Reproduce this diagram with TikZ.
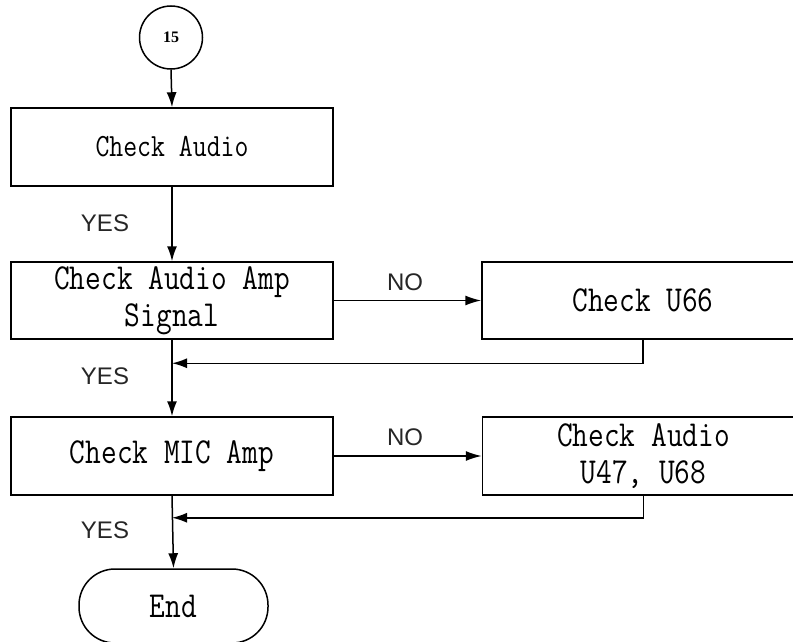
\documentclass[tikz,border=0pt]{standalone}
\usepackage{fontspec}
\usepackage{graphicx}
\newfontfamily\labfont{Liberation Sans}
\newfontfamily\numfont{Liberation Serif}
\usetikzlibrary{arrows.meta}
\newcommand\tl[1]{\scalebox{1}[1.2]{#1}}
\begin{document}
\begin{tikzpicture}[x=1pt,y=-1pt,
  line width=1.5pt,
  boxstyle/.style={draw, rectangle, inner sep=0pt, align=center,
    font=\ttfamily\fontsize{30.5}{37}\selectfont},
  lab/.style={font=\labfont\fontsize{24}{28}\selectfont, text=black!85, inner sep=0pt},
  arr/.style={-{Latex[length=15pt,width=10pt]}},
  harr/.style={-{Latex[length=16pt,width=10pt]}}]
\useasboundingbox (0,0) rectangle (793,642);
\clip (0,0) rectangle (793,642);

\node[draw, circle, minimum size=63pt, inner sep=0pt,
  font=\numfont\bfseries\fontsize{16}{18}\selectfont] (c15) at (171,37.5) {15};

\node[boxstyle, minimum width=322pt, minimum height=78pt,
  font=\ttfamily\fontsize{27}{32}\selectfont] (b1) at (172,147) {\tl{Check Audio}};
\node[boxstyle, minimum width=322pt, minimum height=77pt] (b2) at (172,300.5)
  {\tl{Check Audio Amp}\\\tl{Signal}};
\node[boxstyle, minimum width=322pt, minimum height=78pt] (b3) at (172,456)
  {\tl{Check MIC Amp}};
\node[boxstyle, minimum width=322pt, minimum height=77pt] (r1) at (643,300.5)
  {\tl{Check U66}};
\node[boxstyle, minimum width=322pt, minimum height=78pt] (r2) at (643.5,456)
  {\tl{Check Audio}\\\tl{U47, U68}};
\node[draw, rectangle, rounded corners=36pt, minimum width=189pt, minimum height=74pt,
  inner sep=0pt, font=\ttfamily\fontsize{30.5}{37}\selectfont] (end) at (173.5,606) {\tl{End}};

\draw[arr] (c15.south) -- (b1.north);
\draw[arr] (b1.south) -- (b2.north);
\draw[arr] (b2.south) -- (b3.north);
\draw[arr] (b3.south) -- (end.north);

\draw[harr] (b2.east) -- (r1.west);
\draw[harr] (b3.east) -- (r2.west);

\path (b2.south) ++(0,23.5) coordinate (j1);
\path (b3.south) ++(0,22) coordinate (j2);
\draw[arr] (r1.south) |- (j1);
\draw[arr] (r2.south) |- (j2);

\node[lab] (y1) at (105,223) {YES};
\node[lab] (y2) at (105,376) {YES};
\node[lab] (y3) at (105,530) {YES};
\node[lab] (n1) at (405,282) {NO};
\node[lab] (n2) at (405,437) {NO};
\end{tikzpicture}
\end{document}
